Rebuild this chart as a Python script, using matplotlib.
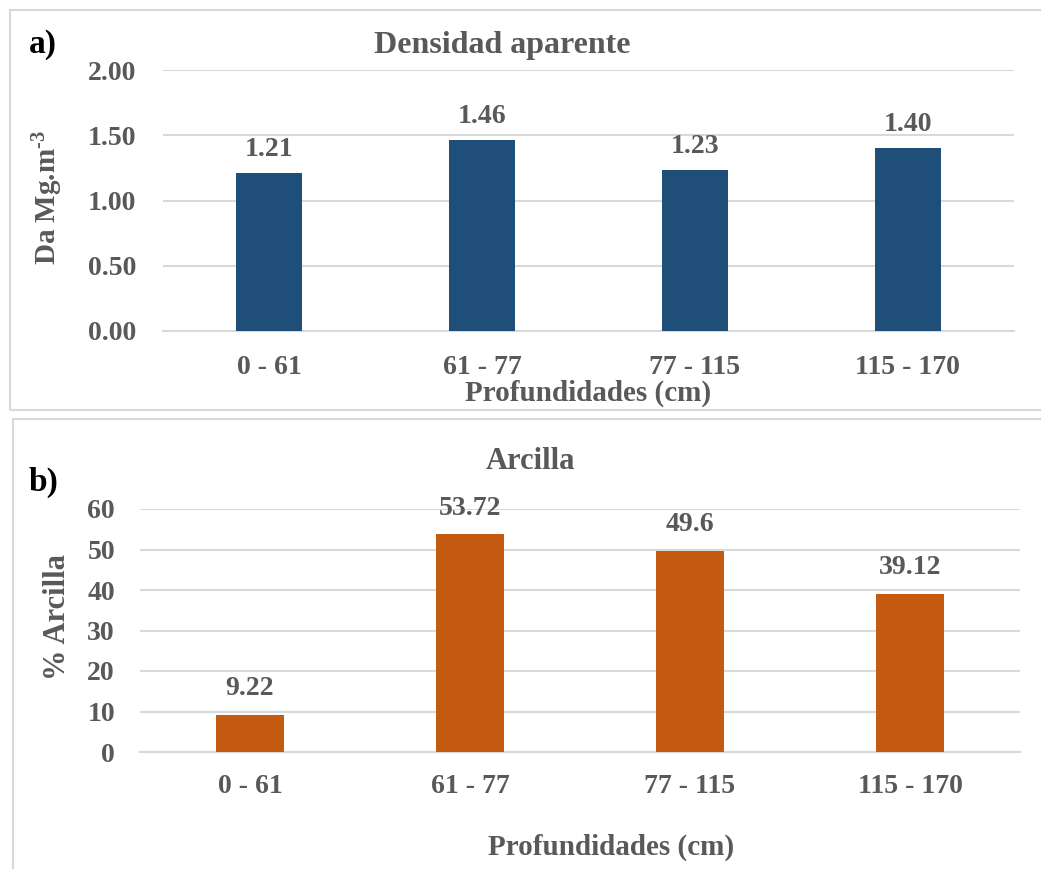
import matplotlib
matplotlib.use("Agg")
import matplotlib.pyplot as plt
from matplotlib.patches import Rectangle
import numpy as np

# Soil profile data
depths = ["0 - 61", "61 - 77", "77 - 115", "115 - 170"]
bulk_density = [1.21, 1.46, 1.23, 1.40]
clay_pct = [9.22, 53.72, 49.6, 39.12]
density_ticks = [0.0, 0.5, 1.0, 1.5, 2.0]
clay_ticks = [0, 10, 20, 30, 40, 50, 60]

W, H = 1041, 869
TEXT = "#595959"
GRID = "#D9D9D9"
BLUE = "#1F4E79"
ORANGE = "#C55A11"
FS = 20

plt.rcParams["font.family"] = ["Liberation Serif", "DejaVu Serif"]
plt.rcParams["font.weight"] = "bold"
plt.rcParams["mathtext.fontset"] = "custom"
plt.rcParams["mathtext.rm"] = "Liberation Serif:bold"
plt.rcParams["mathtext.default"] = "rm"

fig = plt.figure(figsize=(W / 100, H / 100), dpi=100)


def px_axes(left, top, right, bottom):
    return fig.add_axes([left / W, 1 - bottom / H, (right - left) / W, (bottom - top) / H])


# Panel frames
fig.add_artist(Rectangle((10 / W, 1 - 410 / H), 1.2, 400 / H, transform=fig.transFigure,
                         fill=False, edgecolor=GRID, linewidth=1.5, clip_on=False))
fig.add_artist(Rectangle((13 / W, -0.2), 1.2, 0.2 + (H - 419) / H, transform=fig.transFigure,
                         fill=False, edgecolor=GRID, linewidth=1.5, clip_on=False))


def style_axes(ax, ticks, fmt, labelpad_x, labelpad_y):
    x = np.arange(len(depths))
    ax.set_xlim(-0.5, len(depths) - 0.5)
    ax.set_ylim(ticks[0], ticks[-1])
    ax.set_yticks(ticks)
    ax.set_yticklabels([fmt.format(t) for t in ticks])
    ax.set_xticks(x)
    ax.set_xticklabels(depths)
    for s in ["top", "right", "left"]:
        ax.spines[s].set_visible(False)
    ax.spines["bottom"].set_color(GRID)
    ax.spines["bottom"].set_linewidth(1.5)
    ax.yaxis.grid(True, color=GRID, linewidth=1.5)
    ax.set_axisbelow(True)
    ax.tick_params(axis="x", length=0, pad=labelpad_x, labelsize=FS, labelcolor=TEXT)
    ax.tick_params(axis="y", length=0, pad=labelpad_y, labelsize=FS, labelcolor=TEXT)
    for lbl in ax.get_xticklabels() + ax.get_yticklabels():
        lbl.set_fontweight("bold")


# a) Bulk density
ax1 = px_axes(163, 70, 1014, 331)
x = np.arange(len(depths))
ax1.bar(x, bulk_density, width=0.31, color=BLUE, zorder=3)
style_axes(ax1, density_ticks, "{:.2f}", 17, 19)
for xi, v in zip(x, bulk_density):
    ax1.annotate(f"{v:.2f}", (xi, v), xytext=(0, 8), textcoords="offset points",
                 ha="center", va="bottom", fontsize=FS, color=TEXT, fontweight="bold")
ax1.set_xlabel("Profundidades (cm)", fontsize=21, color=TEXT, fontweight="bold")
ax1.xaxis.set_label_coords(0.5, -0.185)
ax1.set_ylabel("Da Mg.m$^{\\text{-3}}$", fontsize=21, color=TEXT, fontweight="bold",
               va="center")
ax1.yaxis.set_label_coords(-0.136, 0.51)
fig.text(502 / W, 1 - 45 / H, "Densidad aparente", ha="center", va="center",
         fontsize=23, color=TEXT, fontweight="bold")
fig.text(29 / W, 1 - 44 / H, "a)", ha="left", va="center", fontsize=24,
         color="black", fontweight="bold")

# b) Clay content
ax2 = px_axes(140, 509, 1020, 752)
ax2.bar(x, clay_pct, width=0.31, color=ORANGE, zorder=3)
style_axes(ax2, clay_ticks, "{:d}", 16, 18)
for xi, v in zip(x, clay_pct):
    ax2.annotate(f"{v:g}", (xi, v), xytext=(0, 10), textcoords="offset points",
                 ha="center", va="bottom", fontsize=FS, color=TEXT, fontweight="bold")
ax2.set_xlabel("Profundidades (cm)", fontsize=21, color=TEXT, fontweight="bold")
ax2.xaxis.set_label_coords(0.535, -0.335)
ax2.set_ylabel("% Arcilla", fontsize=22, color=TEXT, fontweight="bold", va="center")
ax2.yaxis.set_label_coords(-0.094, 0.555)
fig.text(530 / W, 1 - 462 / H, "Arcilla", ha="center", va="center",
         fontsize=22, color=TEXT, fontweight="bold")
fig.text(29 / W, 1 - 482 / H, "b)", ha="left", va="center", fontsize=24,
         color="black", fontweight="bold")

fig.savefig("out.png", dpi=100)
